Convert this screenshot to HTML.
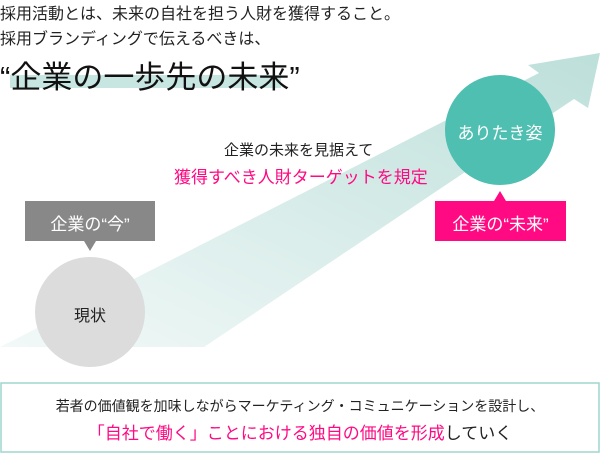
<!DOCTYPE html>
<html><head><meta charset="utf-8"><style>
body{margin:0;width:600px;height:453px;overflow:hidden;background:#fff;position:relative;font-family:"Liberation Sans","Noto Sans CJK JP",sans-serif;}
.t{position:absolute;white-space:nowrap;}
</style></head><body>
<svg width="600" height="453" style="position:absolute;left:0;top:0">
<defs><linearGradient id="g" x1="0" y1="1" x2="1" y2="0">
<stop offset="0" stop-color="#f2f9f8"/><stop offset="1" stop-color="#bddfda"/></linearGradient></defs>
<rect x="10" y="75" width="271" height="13" fill="#c8e6e1"/>
<polygon points="0,347 204,347 574,99 588,108 600,53 528,65 539,73" fill="url(#g)"/>
<circle cx="90" cy="312" r="55" fill="#dcdcdc"/>
<circle cx="500" cy="130" r="55" fill="#4fbfb1"/>
<rect x="25" y="201" width="130" height="40" fill="#888"/>
<polygon points="84,241 96,241 90,251" fill="#888"/>
<rect x="435" y="201" width="131" height="40" fill="#ff0a83"/>
<polygon points="494,201 506,201 500,191" fill="#ff0a83"/>
<rect x="1" y="383" width="598" height="69" fill="#fff" stroke="#9fd6cf" stroke-width="1.5"/>
</svg>
<div class="t" style="left:0;top:0;font-size:16px;color:#222">採用活動とは、未来の自社を担う人財を獲得すること。</div>
<div class="t" style="left:0;top:25px;font-size:16px;color:#222">採用ブランディングで伝えるべきは、</div>
<div class="t" style="left:0;top:52px;font-size:31px;color:#111">“企業の一歩先の未来”</div>
<div class="t" style="left:224px;top:139px;font-size:15px;color:#222">企業の未来を見据えて</div>
<div class="t" style="left:174px;top:163px;font-size:17px;color:#ff0a83">獲得すべき人財ターゲットを規定</div>
<div class="t" style="left:25px;top:210px;width:130px;text-align:center;font-size:17px;color:#fff">企業の“今”</div>
<div class="t" style="left:435px;top:210px;width:131px;text-align:center;font-size:17px;color:#fff">企業の“未来”</div>
<div class="t" style="left:445px;top:119px;width:110px;text-align:center;font-size:17px;color:#fff">ありたき姿</div>
<div class="t" style="left:35px;top:302px;width:110px;text-align:center;font-size:16px;color:#222">現状</div>
<div class="t" style="left:0;top:396px;width:600px;text-align:center;font-size:14px;color:#222">若者の価値観を加味しながらマーケティング・コミュニケーションを設計し、</div>
<div class="t" style="left:0;top:419px;width:600px;text-align:center;font-size:17px;color:#222"><span style="color:#ff0a83">「自社で働く」ことにおける独自の価値を形成</span>していく</div>
</body></html>
